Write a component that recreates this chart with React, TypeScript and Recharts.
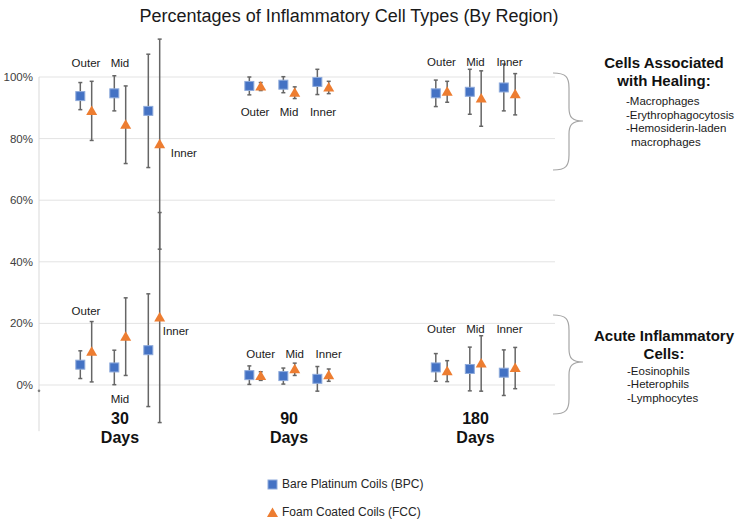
import React from 'react';
import {
  ScatterChart,
  Scatter,
  XAxis,
  YAxis,
  CartesianGrid,
  ErrorBar,
  ReferenceDot,
  Legend,
} from 'recharts';

const DAYS = ['30', '90', '180'];
const REGIONS = ['Outer', 'Mid', 'Inner'];
const SERIES = ['Bare Platinum Coils (BPC)', 'Foam Coated Coils (FCC)'];

// order: 30d outer/mid/inner, 90d outer/mid/inner, 180d outer/mid/inner
const bpcHealing = [93.8, 94.7, 89.0, 97.1, 97.5, 98.4, 94.7, 95.2, 96.6];
const bpcHealingErr = [4.4, 5.7, 18.4, 2.9, 2.6, 4.1, 4.3, 7.3, 7.6];
const fccHealing = [89.0, 84.5, 78.2, 96.9, 94.9, 96.6, 95.2, 93.0, 94.4];
const fccHealingErr = [9.6, 12.6, 34.1, 1.3, 1.9, 2.0, 3.4, 9.0, 6.7];

const bpcAcute = [6.6, 5.7, 11.3, 3.2, 2.9, 2.0, 5.7, 5.2, 4.0];
const bpcAcuteErr = [4.5, 5.6, 18.3, 3.0, 2.6, 4.0, 4.5, 7.1, 7.4];
const fccAcute = [10.8, 15.7, 21.9, 2.9, 5.1, 3.2, 4.5, 7.0, 5.5];
const fccAcuteErr = [9.8, 12.6, 34.1, 1.4, 2.0, 2.0, 3.4, 9.0, 6.7];

const Y_TICKS = [0, 20, 40, 60, 80, 100];

// region labels: point index, label level (%), anchor
const regionLabels = [
  { i: 0, level: 104.5, anchor: 'pair' },
  { i: 1, level: 104.5, anchor: 'pair' },
  { i: 2, level: 75.3, anchor: 'right', dx: 11 },
  { i: 0, level: 23.9, anchor: 'pair' },
  { i: 1, level: -4.5, anchor: 'pair' },
  { i: 2, level: 17.5, anchor: 'right', dx: 3 },
  { i: 3, level: 88.7, anchor: 'pair' },
  { i: 4, level: 88.7, anchor: 'pair' },
  { i: 5, level: 88.7, anchor: 'pair' },
  { i: 3, level: 10.1, anchor: 'fcc' },
  { i: 4, level: 10.1, anchor: 'fcc' },
  { i: 5, level: 10.1, anchor: 'fcc' },
  { i: 6, level: 104.8, anchor: 'pair' },
  { i: 7, level: 104.8, anchor: 'pair' },
  { i: 8, level: 104.8, anchor: 'pair' },
  { i: 6, level: 18.2, anchor: 'pair' },
  { i: 7, level: 18.2, anchor: 'pair' },
  { i: 8, level: 18.2, anchor: 'pair' },
];

const FONT = "'Liberation Sans', Arial, sans-serif";
const BLUE = '#4472c4';
const ORANGE = '#ed7d31';
const X_DOMAIN = [-0.4557, 2.4473];
const Y_DOMAIN = [-15, 115];
// slot of each day group on the x axis (the original spacing is not even)
const DAY_SLOT = [0, 0.951, 2];
const REGION_STEP = 0.1913;
const SERIES_HALF = 0.032;

const xPos = (i: number, s: number) =>
  DAY_SLOT[Math.floor(i / 3)] + ((i % 3) - 1) * REGION_STEP + (s === 0 ? -SERIES_HALF : SERIES_HALF);

const rows = (vals: number[], errs: number[], s: number) =>
  vals.map((v, i) => ({ x: xPos(i, s), y: v, err: errs[i] }));

// vertical axis line only runs from the bottom of the plot up to 100%
const axisLine = [
  { x: X_DOMAIN[0], y: Y_DOMAIN[0] },
  { x: X_DOMAIN[0], y: 100 },
];

const Square = (p: any) => (
  <rect x={p.cx - 4.5} y={p.cy - 4.5} width={9} height={9} fill={BLUE} stroke="#8eaadb" strokeWidth={1} />
);

const Triangle = (p: any) => (
  <polygon
    points={`${p.cx},${p.cy - 5.5} ${p.cx + 5.5},${p.cy + 4} ${p.cx - 5.5},${p.cy + 4}`}
    fill={ORANGE}
  />
);

const NoDot = () => <g />;

const DayTick = ({ x, y, payload }: any) => (
  <text x={x} y={y} textAnchor="middle" fontSize={16} fontWeight="bold" fill="#111">
    <tspan x={x} dy={-7}>{DAYS[DAY_SLOT.indexOf(payload.value)]}</tspan>
    <tspan x={x} dy={19}>Days</tspan>
  </text>
);

const renderLegend = ({ payload }: any) => {
  const seen = new Set<string>();
  const items = (payload || []).filter((p: any) => {
    if (p.type === 'none' || !SERIES.includes(p.value) || seen.has(p.value)) return false;
    seen.add(p.value);
    return true;
  });
  return (
    <div>
      {items.map((p: any) => (
        <div key={p.value} style={{ display: 'flex', alignItems: 'center', height: 28 }}>
          <svg width={11} height={11}>
            {p.value === SERIES[0] ? (
              <rect x={1} y={1} width={9} height={9} fill={BLUE} stroke="#8eaadb" />
            ) : (
              <polygon points="5.5,0.5 11,10 0,10" fill={ORANGE} />
            )}
          </svg>
          <span style={{ marginLeft: 4, fontSize: 12, color: '#262626' }}>{p.value}</span>
        </div>
      ))}
    </div>
  );
};

const brace = (top: number, mid: number, bot: number) =>
  `M553,${top} C566,${top} 569,${top + 4} 569,${top + 15} L569,${mid - 13} C569,${mid - 4} 572,${mid} 583,${mid} ` +
  `C572,${mid} 569,${mid + 4} 569,${mid + 13} L569,${bot - 15} C569,${bot - 4} 566,${bot} 553,${bot}`;

export default function App() {
  const labelDots = regionLabels.map((l, k) => {
    const x =
      l.anchor === 'pair' ? (xPos(l.i, 0) + xPos(l.i, 1)) / 2 : xPos(l.i, 1);
    const right = l.anchor === 'right';
    return (
      <ReferenceDot
        key={`lbl-${k}`}
        x={x}
        y={l.level}
        r={0}
        ifOverflow="visible"
        shape={(p: any) => (
          <text
            x={p.cx + (right ? l.dx || 0 : 0)}
            y={p.cy}
            dy="0.35em"
            textAnchor={right ? 'start' : 'middle'}
            fontSize={11.5}
            fill="#1a1a1a"
          >
            {REGIONS[l.i % 3]}
          </text>
        )}
      />
    );
  });

  return (
    <div style={{ position: 'absolute', left: 0, top: 0, width: 739, height: 523, background: '#fff', fontFamily: FONT }}>
      <ScatterChart width={739} height={523} margin={{ top: 30.8, right: 184, bottom: 61.8, left: 0 }}>
        <CartesianGrid vertical={false} horizontalValues={Y_TICKS} stroke="#e3e3e3" />
        <XAxis
          type="number"
          dataKey="x"
          domain={X_DOMAIN}
          ticks={DAY_SLOT}
          interval={0}
          tick={DayTick}
          axisLine={false}
          tickLine={false}
          tickSize={0}
          tickMargin={0}
          height={30}
        />
        <YAxis
          type="number"
          dataKey="y"
          domain={Y_DOMAIN}
          ticks={Y_TICKS}
          interval={0}
          tickFormatter={(v: number) => `${v}%`}
          axisLine={false}
          tickLine={false}
          tickSize={0}
          tickMargin={6}
          width={39}
          tick={{ fontSize: 11.5, fill: '#404040' }}
        />
        <Scatter
          name="axis"
          legendType="none"
          data={axisLine}
          line={{ stroke: '#d9d9d9', strokeWidth: 1 }}
          shape={NoDot}
          isAnimationActive={false}
        />
        <ReferenceDot x={X_DOMAIN[0]} y={-1.9} r={1.3} fill="#808080" stroke="none" />
        <Scatter name={SERIES[0]} data={rows(bpcHealing, bpcHealingErr, 0)} shape={Square} isAnimationActive={false}>
          <ErrorBar dataKey="err" direction="y" width={2} stroke="#666" strokeWidth={1.5} isAnimationActive={false} />
        </Scatter>
        <Scatter name={SERIES[1]} data={rows(fccHealing, fccHealingErr, 1)} shape={Triangle} isAnimationActive={false}>
          <ErrorBar dataKey="err" direction="y" width={2} stroke="#666" strokeWidth={1.5} isAnimationActive={false} />
        </Scatter>
        <Scatter name={SERIES[0]} legendType="none" data={rows(bpcAcute, bpcAcuteErr, 0)} shape={Square} isAnimationActive={false}>
          <ErrorBar dataKey="err" direction="y" width={2} stroke="#666" strokeWidth={1.5} isAnimationActive={false} />
        </Scatter>
        <Scatter name={SERIES[1]} legendType="none" data={rows(fccAcute, fccAcuteErr, 1)} shape={Triangle} isAnimationActive={false}>
          <ErrorBar dataKey="err" direction="y" width={2} stroke="#666" strokeWidth={1.5} isAnimationActive={false} />
        </Scatter>
        {labelDots}
        <Legend
          layout="vertical"
          align="center"
          verticalAlign="middle"
          content={renderLegend}
          wrapperStyle={{ left: 267, top: 470, width: 220 }}
        />
      </ScatterChart>
      <svg width={739} height={523} style={{ position: 'absolute', left: 0, top: 0, pointerEvents: 'none' }}>
        <text x={349} y={21.5} textAnchor="middle" fontSize={18} fill="#1a1a1a">
          Percentages of Inflammatory Cell Types (By Region)
        </text>
        <path d={brace(73, 121, 170)} fill="none" stroke="#a6a6a6" strokeWidth={1.2} />
        <path d={brace(315, 362, 414)} fill="none" stroke="#a6a6a6" strokeWidth={1.2} />
        <g fontSize={15} fontWeight="bold" fill="#111" textAnchor="middle">
          <text x={664} y={68}>Cells Associated</text>
          <text x={664} y={85.5}>with Healing:</text>
          <text x={664} y={341}>Acute Inflammatory</text>
          <text x={664} y={359}>Cells:</text>
        </g>
        <g fontSize={11.5} fill="#1a1a1a">
          <text x={626} y={105}>-Macrophages</text>
          <text x={626} y={118.5}>-Erythrophagocytosis</text>
          <text x={626} y={132}>-Hemosiderin-laden</text>
          <text x={631} y={145.5}>macrophages</text>
          <text x={627} y={374.5}>-Eosinophils</text>
          <text x={627} y={388}>-Heterophils</text>
          <text x={627} y={401.5}>-Lymphocytes</text>
        </g>
      </svg>
    </div>
  );
}
